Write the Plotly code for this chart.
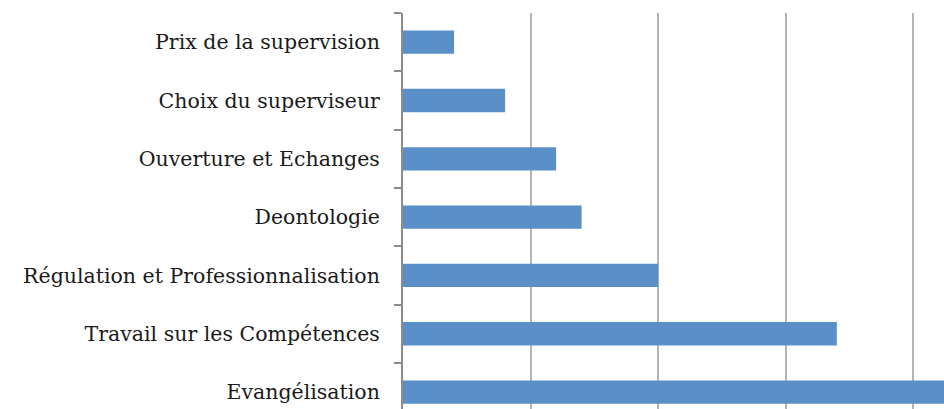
import plotly.graph_objects as go


# ---------------------------------
# DATA (bottom to top)
# ---------------------------------

categories = [
    "Evangélisation",
    "Travail sur les Compétences",
    "Régulation et Professionnalisation",
    "Deontologie",
    "Ouverture et Echanges",
    "Choix du superviseur",
    "Prix de la supervision",
]

values = [24, 17, 10, 7, 6, 4, 2]

x_ticks = [0, 5, 10, 15, 20, 25]


# ---------------------------------
# FIGURE
# ---------------------------------

fig = go.Figure(
    go.Bar(
        x=values,
        y=categories,
        orientation="h",
        marker=dict(
            color="#5b8fc7",
            line=dict(width=0)
        ),
        hovertemplate="<b>%{y}</b><br>%{x}<extra></extra>"
    )
)

fig.update_layout(

    width=944,
    height=409,

    paper_bgcolor="white",
    plot_bgcolor="white",

    bargap=0.6,

    showlegend=False,

    font=dict(
        family="DejaVu Serif, serif",
        color="#1a1a1a",
        size=20.5
    ),

    margin=dict(
        l=403,
        r=0,
        t=13,
        b=0
    )
)

fig.update_xaxes(

    range=[0, 21.2],

    tickvals=x_ticks,
    showticklabels=False,

    showgrid=True,
    gridcolor="#b4b4b4",
    gridwidth=2,

    zeroline=False,
    showline=False
)

fig.update_yaxes(

    type="category",
    range=[-0.29, 6.5],

    showgrid=False,
    zeroline=False,

    showline=True,
    linecolor="#8c8c8c",
    linewidth=2,

    ticks="outside",
    tickson="boundaries",
    ticklen=7,
    tickwidth=2,
    tickcolor="#8c8c8c",

    ticklabelstandoff=17
)

fig.write_html(
    "out.html",
    config={"displayModeBar": False},
    post_script="document.body.style.margin='0';document.body.style.overflow='hidden';"
)
